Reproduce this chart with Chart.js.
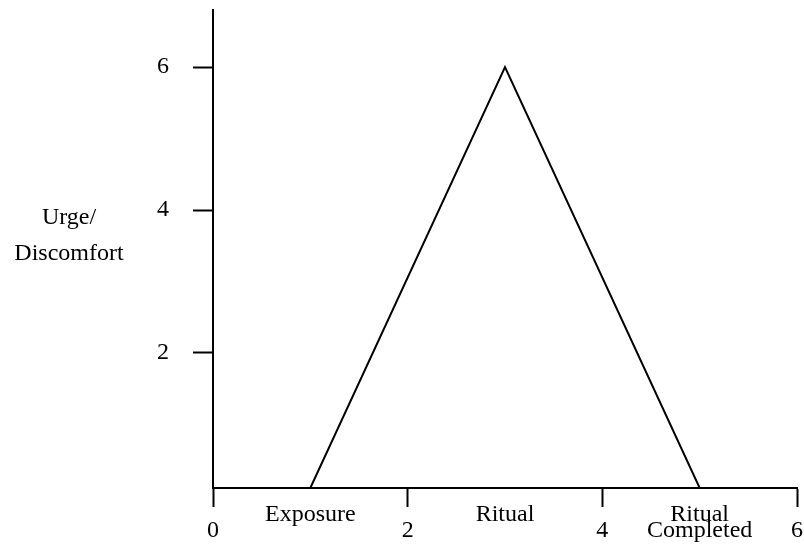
<!DOCTYPE html>
<html>
<head>
<meta charset="utf-8">
<script src="https://cdn.jsdelivr.net/npm/chart.js@4"></script>
<style>
  body { margin: 0; background: #fff; }
  canvas { display: block; }
</style>
</head>
<body>
<canvas id="grafica" width="804" height="546"></canvas>
<script>
// Puntos de la curva (etapa, urgencia)
const etapas = [1, 3, 5];
const urgencia = [0.11, 6, 0.11];
// Marcas del eje x y sus textos
const marcasX = [0, 1, 2, 3, 4, 5, 6];
const textosX = [["", "0"], "Exposure", ["", "2"], "Ritual", ["", "4"], ["Ritual", "Completed"], ["", "6"]];
// Marcas del eje y
const marcasY = [2, 4, 6];
const tituloY = ["Urge/", "Discomfort"];

const familia = "'Liberation Serif', 'DejaVu Serif', serif";

// Titulo del eje y en horizontal, como en el original
const tituloPlugin = {
  id: 'tituloY',
  afterDraw(chart) {
    const ctx = chart.ctx;
    ctx.save();
    ctx.font = "24px " + familia;
    ctx.fillStyle = '#000';
    ctx.textAlign = 'center';
    ctx.textBaseline = 'middle';
    ctx.fillText(tituloY[0], 69, 218);
    ctx.fillText(tituloY[1], 69, 254);
    ctx.restore();
  }
};

new Chart(document.querySelector("#grafica"), {
  type: 'line',
  data: {
    datasets: [{
      data: etapas.map((x, i) => ({ x: x, y: urgencia[i] })),
      borderColor: '#000',
      borderWidth: 2,
      pointRadius: 0,
      tension: 0,
      fill: false
    }]
  },
  options: {
    responsive: false,
    animation: false,
    layout: { padding: { top: 10, right: 7, left: 0, bottom: 0 } },
    plugins: { legend: { display: false }, tooltip: { enabled: false } },
    scales: {
      x: {
        type: 'linear',
        min: 0,
        max: 6,
        afterBuildTicks: s => { s.ticks = marcasX.map(v => ({ value: v })); },
        afterFit: s => { s.height = 58; s.paddingLeft = 0; s.paddingRight = 0; },
        border: { display: true, color: '#000', width: 2 },
        grid: {
          drawOnChartArea: false,
          drawTicks: true,
          tickLength: 19,
          tickWidth: 2,
          tickColor: c => (c.tick && c.tick.value % 2 === 0) ? '#000' : 'rgba(0,0,0,0)'
        },
        ticks: {
          autoSkip: false,
          maxRotation: 0,
          minRotation: 0,
          padding: 0,
          color: '#000',
          font: { family: familia, size: 24, lineHeight: '16px' },
          callback: v => textosX[marcasX.indexOf(v)]
        }
      },
      y: {
        type: 'linear',
        min: 0.11,
        max: 6.8,
        afterBuildTicks: s => { s.ticks = marcasY.map(v => ({ value: v })); },
        afterFit: s => { s.width = 213; s.paddingTop = 0; s.paddingBottom = 0; },
        border: { display: true, color: '#000', width: 2 },
        grid: {
          drawOnChartArea: false,
          drawTicks: true,
          tickLength: 20,
          tickWidth: 2,
          tickColor: '#000'
        },
        ticks: {
          padding: 24,
          color: '#000',
          font: { family: familia, size: 24 },
          callback: v => String(v)
        }
      }
    }
  },
  plugins: [tituloPlugin]
});
</script>
</body>
</html>
